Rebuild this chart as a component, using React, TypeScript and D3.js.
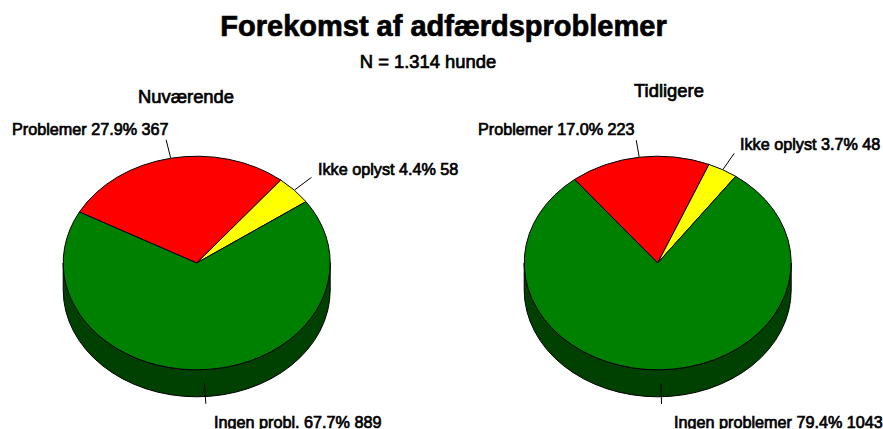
import React from "react";
import * as d3 from "d3";

const TITLE = "Forekomst af adfærdsproblemer";
const SUBTITLE = "N = 1.314 hunde";
const currentNames = ["Problemer", "Ikke oplyst", "Ingen probl."];
const currentPct = ["27.9%", "4.4%", "67.7%"];
const currentCounts = [367, 58, 889];
const earlierNames = ["Problemer", "Ikke oplyst", "Ingen problemer"];
const earlierPct = ["17.0%", "3.7%", "79.4%"];
const earlierCounts = [223, 48, 1043];
const colors = ["#ff0000", "#ffff00", "#008000"];
const SIDE = "#004000";

const RX = 133.5, RATIO = 0.8, DEPTH = 27, CY = 263;
const FONT = "'Liberation Sans', Arial, sans-serif";

type PieProps = {
  cx: number; start: number; heading: string; hx: number; hy: number;
  names: string[]; pct: string[]; counts: number[];
  labels: [number, number][];
  leaders: [number, number, number][];
};

function Txt({ x, y, size, anchor, children }: any) {
  return (
    <text x={x} y={y} fontSize={size} textAnchor={anchor || "start"} fontFamily={FONT}
      fill="#000" stroke="#000" strokeWidth={0.7}>{children}</text>
  );
}

function Pie3D({ cx, start, heading, hx, hy, names, pct, counts, labels, leaders }: PieProps) {
  const a0 = (start * Math.PI) / 180;
  const arcs = d3.pie<number>().sort(null).startAngle(a0).endAngle(a0 + 2 * Math.PI)(counts);
  const arc = d3.arc<d3.PieArcDatum<number>>().innerRadius(0).outerRadius(RX);
  const ry = RX * RATIO;
  const side = `M${cx - RX},${CY}A${RX},${ry} 0 0 0 ${cx + RX},${CY}L${cx + RX},${CY + DEPTH}A${RX},${ry} 0 0 1 ${cx - RX},${CY + DEPTH}Z`;
  return (
    <g>
      <path d={side} fill={SIDE} stroke="#000" strokeWidth={1} />
      <g transform={`translate(${cx},${CY}) scale(1,${RATIO})`}>
        {arcs.map((d, i) => (
          <path key={i} d={arc(d) || ""} fill={colors[i]} stroke="#000" strokeWidth={1}
            vectorEffect="non-scaling-stroke" strokeLinejoin="round" />
        ))}
      </g>
      {arcs.map((d, i) => {
        const m = (d.startAngle + d.endAngle) / 2;
        const [r1, r2, dy] = leaders[i];
        const px = (r: number) => cx + r * Math.sin(m);
        const py = (r: number) => CY - r * RATIO * Math.cos(m) + dy;
        return <line key={i} x1={px(r1)} y1={py(r1)} x2={px(r2)} y2={py(r2)} stroke="#000" strokeWidth={1} />;
      })}
      <Txt x={hx} y={hy} size={18.4} anchor="middle">{heading}</Txt>
      {names.map((n, i) => (
        <Txt key={n} x={labels[i][0]} y={labels[i][1]} size={16.2}>{`${n} ${pct[i]} ${counts[i]}`}</Txt>
      ))}
    </g>
  );
}

export default function App() {
  return (
    <svg width={883} height={429} style={{ position: "fixed", left: 0, top: 0, background: "#fff" }}>
      <text x={443.5} y={36} fontSize={29} fontWeight="bold" textAnchor="middle" fontFamily={FONT} stroke="#000" strokeWidth={0.7}>{TITLE}</text>
      <Txt x={428} y={67.5} size={18.4} anchor="middle">{SUBTITLE}</Txt>
      <Pie3D cx={196.7} start={-61.5} heading="Nuværende" hx={186} hy={102.5}
        names={currentNames} pct={currentPct} counts={currentCounts}
        labels={[[12, 135], [318, 175], [214, 428]]}
        leaders={[[134, 157, 0], [134, 157, 0], [134, 160, 13]]} />
      <Pie3D cx={657.7} start={-38.5} heading="Tidligere" hx={669} hy={96.5}
        names={earlierNames} pct={earlierPct} counts={earlierCounts}
        labels={[[478, 135], [740, 150], [674, 428]]}
        leaders={[[134, 155, 0], [134, 157, 0], [134, 160, 13]]} />
    </svg>
  );
}
